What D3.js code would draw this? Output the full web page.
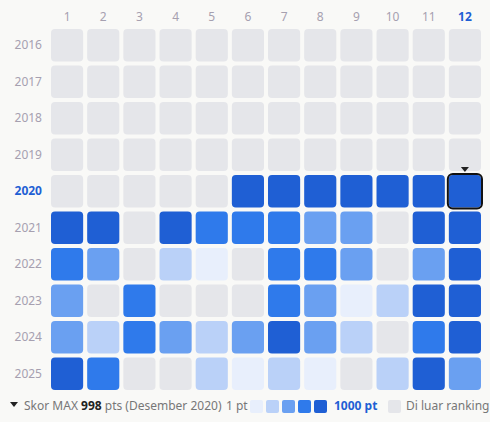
<!DOCTYPE html>
<html><head><meta charset="utf-8">
<script src="https://cdn.jsdelivr.net/npm/d3@7"></script>
<style>
body{margin:0;background:#f9f9f7;font-family:"Noto Sans",sans-serif;}
</style></head>
<body><div id="root"></div>
<script>
const months = [1,2,3,4,5,6,7,8,9,10,11,12]
const years = [2016,2017,2018,2019,2020,2021,2022,2023,2024,2025]
// score level per month: 0 = outside ranking, 1..5 = color bucket
const levels = [
  [0,0,0,0,0,0,0,0,0,0,0,0],
  [0,0,0,0,0,0,0,0,0,0,0,0],
  [0,0,0,0,0,0,0,0,0,0,0,0],
  [0,0,0,0,0,0,0,0,0,0,0,0],
  [0,0,0,0,0,5,5,5,5,5,5,5],
  [5,5,0,5,4,4,4,3,3,0,5,5],
  [4,3,0,2,1,0,4,4,3,0,3,5],
  [3,0,4,0,0,0,4,3,1,2,5,5],
  [3,2,4,3,2,3,5,3,2,0,4,5],
  [5,4,0,0,2,1,2,1,0,2,5,3]
]
const palette = ['#e5e6ea','#e8effc','#bad1f8','#6aa0f1','#2f7aeb','#1f5fd4']
const maxYear = 2020, maxMonth = 12

const W = 490, H = 422
const svg = d3.select('#root').append('svg').attr('width', W).attr('height', H)

let x = d3.scaleBand().domain(months).range([50, 482]).paddingInner(4/36).paddingOuter(1/36)
let y = d3.scaleBand().domain(years).range([28, 391]).paddingInner(4/36).paddingOuter(1/36)
let color = d3.scaleOrdinal().domain([0,1,2,3,4,5]).range(palette)

svg.selectAll('.mlab').data(months).join('text')
    .attr('x', d => x(d) + x.bandwidth()/2).attr('y', 21)
    .attr('text-anchor', 'middle').style('font-size', '12px')
    .style('fill', d => d === maxMonth ? '#1f5fd4' : '#a6a0b0')
    .style('font-weight', d => d === maxMonth ? 700 : 400)
    .text(d => d)

svg.selectAll('.ylab').data(years).join('text')
    .attr('x', 42).attr('y', d => y(d) + y.bandwidth()/2 + 4)
    .attr('text-anchor', 'end').style('font-size', '12px')
    .style('fill', d => d === maxYear ? '#1f5fd4' : '#a6a0b0')
    .style('font-weight', d => d === maxYear ? 700 : 400)
    .text(d => d)

let cells = []
years.forEach((yr, i) => months.forEach((m, j) => cells.push({yr, m, v: levels[i][j]})))

svg.selectAll('.cell').data(cells).join('rect')
    .attr('x', d => x(d.m)).attr('y', d => y(d.yr))
    .attr('width', x.bandwidth()).attr('height', y.bandwidth())
    .attr('rx', 4).attr('fill', d => color(d.v))

// highlight max
let hx = x(maxMonth), hy = y(maxYear)
svg.append('rect').attr('x', hx - 1).attr('y', hy - 1)
    .attr('width', x.bandwidth() + 2).attr('height', y.bandwidth() + 2)
    .attr('rx', 5).attr('fill', 'none').attr('stroke', '#111').attr('stroke-width', 2)
let cx = hx + x.bandwidth()/2
svg.append('path').attr('d', `M${cx-4},${hy-8}L${cx+4},${hy-8}L${cx},${hy-3}Z`).attr('fill', '#222')

// legend
let ly = 406
svg.append('path').attr('d', `M10,${ly-4}L18,${ly-4}L14,${ly+1}Z`).attr('fill', '#222')
let t = svg.append('text').attr('x', 24).attr('y', ly + 4).style('font-size', '12px').style('fill', '#777')
t.append('tspan').text('Skor MAX ')
t.append('tspan').style('font-weight', 700).style('fill', '#222').text('998')
t.append('tspan').text(' pts (Desember 2020)')

svg.append('text').attr('x', 226).attr('y', ly + 4).style('font-size', '12px').style('fill', '#777').text('1 pt')
svg.selectAll('.lg').data([1,2,3,4,5]).join('rect')
    .attr('x', (d, i) => 250 + i * 16).attr('y', ly - 6).attr('width', 13).attr('height', 13)
    .attr('rx', 2).attr('fill', d => color(d))
svg.append('text').attr('x', 334).attr('y', ly + 4).style('font-size', '12px')
    .style('fill', '#1f5fd4').style('font-weight', 700).text('1000 pt')
svg.append('rect').attr('x', 388).attr('y', ly - 6).attr('width', 13).attr('height', 13).attr('rx', 2).attr('fill', color(0))
svg.append('text').attr('x', 406).attr('y', ly + 4).style('font-size', '12px').style('fill', '#777').text('Di luar ranking')
</script></body></html>
